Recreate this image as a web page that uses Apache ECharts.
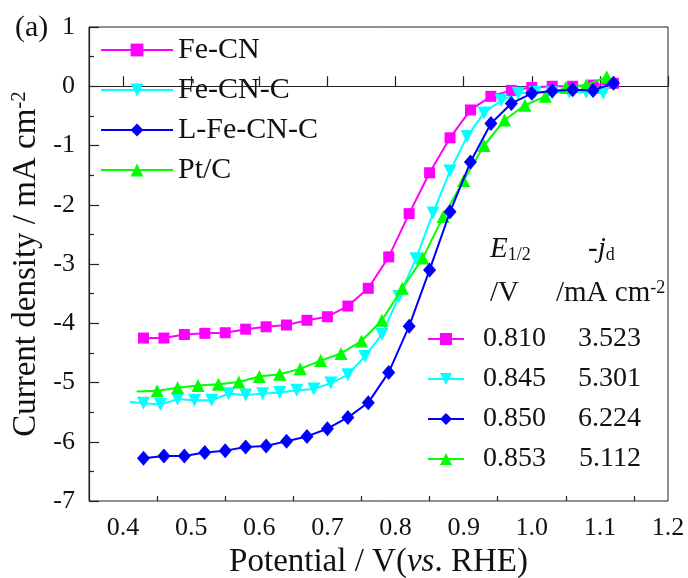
<!DOCTYPE html>
<html>
<head>
<meta charset="utf-8">
<script src="https://cdn.jsdelivr.net/npm/echarts@6/dist/echarts.min.js"></script>
<style>
html, body { margin: 0; padding: 0; background: #fff; }
#chart { width: 688px; height: 578px; }
</style>
</head>
<body>
<div id="chart"></div>
<script>
// LSV curves
var seriesNames = ['Fe-CN', 'Fe-CN-C', 'L-Fe-CN-C', 'Pt/C'];
var halfWave = ['0.810', '0.845', '0.850', '0.853'];
var limitCurrent = ['3.523', '5.301', '6.224', '5.112'];

var xFeCN = [0.43, 0.46, 0.49, 0.52, 0.55, 0.58, 0.61, 0.64, 0.67, 0.70, 0.73, 0.76,
             0.79, 0.82, 0.85, 0.88, 0.91, 0.94, 0.97, 1.00, 1.03, 1.06, 1.09, 1.12];
var yFeCN = [-4.25, -4.25, -4.19, -4.17, -4.16, -4.10, -4.06, -4.03, -3.95, -3.89, -3.71, -3.41,
             -2.88, -2.15, -1.46, -0.87, -0.40, -0.17, -0.07, -0.02, 0.00, 0.00, 0.02, 0.05];

var xFeCNC = [0.41, 0.43, 0.455, 0.48, 0.505, 0.53, 0.555, 0.58, 0.605, 0.63, 0.655, 0.68, 0.705, 0.73,
              0.755, 0.78, 0.805, 0.83, 0.855, 0.88, 0.905, 0.93, 0.955, 0.98, 1.005, 1.03, 1.055, 1.08, 1.105];
var yFeCNC = [-5.33, -5.35, -5.37, -5.28, -5.30, -5.30, -5.19, -5.21, -5.19, -5.17, -5.13, -5.11, -5.01, -4.87,
              -4.56, -4.19, -3.55, -2.91, -2.14, -1.43, -0.85, -0.45, -0.24, -0.12, -0.10, -0.11, -0.10, -0.10, -0.12];

var xLFeCNC = [0.43, 0.46, 0.49, 0.52, 0.55, 0.58, 0.61, 0.64, 0.67, 0.70, 0.73, 0.76,
               0.79, 0.82, 0.85, 0.88, 0.91, 0.94, 0.97, 1.00, 1.03, 1.06, 1.09, 1.12];
var yLFeCNC = [-6.28, -6.24, -6.24, -6.18, -6.15, -6.09, -6.07, -5.99, -5.91, -5.78, -5.59, -5.34,
               -4.83, -4.05, -3.10, -2.12, -1.28, -0.63, -0.29, -0.12, -0.08, -0.06, -0.07, 0.05];

var xPtC = [0.42, 0.45, 0.48, 0.51, 0.54, 0.57, 0.60, 0.63, 0.66, 0.69, 0.72, 0.75, 0.78,
            0.81, 0.84, 0.87, 0.90, 0.93, 0.96, 0.99, 1.02, 1.05, 1.08, 1.11];
var yPtC = [-5.15, -5.14, -5.09, -5.05, -5.03, -4.99, -4.90, -4.86, -4.77, -4.63, -4.51, -4.30, -3.95,
            -3.41, -2.90, -2.20, -1.59, -1.00, -0.57, -0.32, -0.17, -0.02, 0.02, 0.16];

var xTicks = [0.4, 0.5, 0.6, 0.7, 0.8, 0.9, 1.0, 1.1, 1.2];
var xMinorTicks = [0.45, 0.55, 0.65, 0.75, 0.85, 0.95, 1.05, 1.15];

var FONT = 'Liberation Serif';
var INK = '#111';

// first point of some curves is line only (no marker)
function pairs(xs, ys, leadIn) {
  return xs.map(function (x, i) {
    if (i < leadIn) return { value: [x, ys[i]], symbol: 'none' };
    return [x, ys[i]];
  });
}

function curve(name, xs, ys, leadIn, color, symbol, size, rotate, z) {
  return {
    name: name,
    type: 'line',
    data: pairs(xs, ys, leadIn),
    symbol: symbol,
    symbolSize: size,
    symbolRotate: rotate,
    showAllSymbol: true,
    z: z,
    lineStyle: { color: color, width: 2 },
    itemStyle: { color: color, borderWidth: 0 }
  };
}

var chart = echarts.init(document.getElementById('chart'));

chart.setOption({
  animation: false,
  backgroundColor: '#fff',
  textStyle: { fontFamily: FONT, color: INK },
  grid: {
    left: 89, right: 20, top: 27, bottom: 77,
    show: true, borderColor: '#222', borderWidth: 1,
    outerBoundsMode: 'none'
  },
  xAxis: [{
    type: 'value', min: 0.35, max: 1.2,
    name: 'Potential / V({i|vs}. RHE)',
    nameLocation: 'middle', nameGap: 42,
    nameTextStyle: {
      fontFamily: FONT, fontSize: 33, color: INK,
      rich: { i: { fontFamily: FONT, fontSize: 33, fontStyle: 'italic', color: INK } }
    },
    axisLine: { show: true, lineStyle: { color: '#222', width: 1.2 } },
    axisTick: { show: true, inside: true, length: 10, customValues: xTicks, lineStyle: { color: '#222', width: 1.2 } },
    axisLabel: {
      customValues: xTicks, margin: 14,
      fontFamily: FONT, fontSize: 26, color: INK,
      formatter: function (v) { return v.toFixed(1); }
    },
    splitLine: { show: false }
  }, {
    type: 'value', min: 0.35, max: 1.2, position: 'bottom',
    axisLine: { show: false },
    axisTick: { show: true, inside: true, length: 5, customValues: xMinorTicks, lineStyle: { color: '#222', width: 1.2 } },
    axisLabel: { show: false },
    splitLine: { show: false }
  }],
  yAxis: {
    type: 'value', min: -7, max: 1, interval: 1,
    name: 'Current density / mA cm{p|-2}',
    nameLocation: 'middle', nameGap: 42,
    nameTextStyle: {
      fontFamily: FONT, fontSize: 33, color: INK,
      rich: { p: { fontFamily: FONT, fontSize: 21, verticalAlign: 'top', color: INK } }
    },
    axisLine: { show: true, lineStyle: { color: '#222', width: 1.2 } },
    axisTick: { show: true, inside: true, length: 10, lineStyle: { color: '#222', width: 1.2 } },
    minorTick: { show: true, splitNumber: 2, length: 5, lineStyle: { color: '#222', width: 1.2 } },
    axisLabel: { margin: 14, fontFamily: FONT, fontSize: 26, color: INK },
    splitLine: { show: false }
  },
  legend: [{
    data: seriesNames,
    orient: 'vertical', left: 95, top: 30,
    itemWidth: 72, itemHeight: 16, itemGap: 10,
    selectedMode: false,
    textStyle: { fontFamily: FONT, fontSize: 30, color: INK }
  }, {
    data: seriesNames,
    orient: 'vertical', left: 422, top: 320,
    itemWidth: 36, itemHeight: 15, itemGap: 12,
    selectedMode: false,
    formatter: function (name) {
      var i = seriesNames.indexOf(name);
      return '{a|' + halfWave[i] + '}{b|' + limitCurrent[i] + '}';
    },
    textStyle: {
      fontFamily: FONT, fontSize: 28, color: INK,
      rich: {
        a: { width: 77, align: 'right', fontFamily: FONT, fontSize: 28, color: INK },
        b: { width: 95, align: 'right', fontFamily: FONT, fontSize: 28, color: INK }
      }
    }
  }],
  graphic: [
    { type: 'text', left: 15, top: 13, style: { text: '(a)', fontFamily: FONT, fontSize: 30, fill: INK } },
    { type: 'text', left: 490, top: 235, style: {
      text: '{e|E}{s|1/2}', fill: INK, fontFamily: FONT, fontSize: 29,
      rich: {
        e: { fontFamily: FONT, fontSize: 29, fontStyle: 'italic' },
        s: { fontFamily: FONT, fontSize: 18, verticalAlign: 'bottom' }
      }
    } },
    { type: 'text', left: 588, top: 235, style: {
      text: '{j|-j}{s|d}', fill: INK, fontFamily: FONT, fontSize: 29,
      rich: {
        j: { fontFamily: FONT, fontSize: 29, fontStyle: 'italic' },
        s: { fontFamily: FONT, fontSize: 18, verticalAlign: 'bottom' }
      }
    } },
    { type: 'text', left: 490, top: 279, style: { text: '/V', fill: INK, fontFamily: FONT, fontSize: 29 } },
    { type: 'text', left: 556, top: 279, style: {
      text: '/mA cm{p|-2}', fill: INK, fontFamily: FONT, fontSize: 29,
      rich: { p: { fontFamily: FONT, fontSize: 18, verticalAlign: 'top' } }
    } }
  ],
  series: [
    curve('Fe-CN', xFeCN, yFeCN, 0, '#ff00ff', 'rect', 11, 0, 2),
    curve('Fe-CN-C', xFeCNC, yFeCNC, 1, '#00ffff', 'triangle', 13, 180, 2),
    curve('L-Fe-CN-C', xLFeCNC, yLFeCNC, 0, '#0000ff', 'diamond', [13, 15], 0, 4),
    curve('Pt/C', xPtC, yPtC, 1, '#00ff00', 'triangle', 13, 0, 3)
  ]
});
</script>
</body>
</html>
